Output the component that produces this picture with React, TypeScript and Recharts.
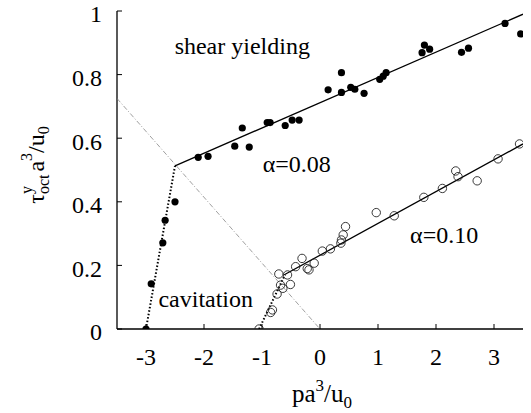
import React from "react";
import { ScatterChart, Scatter, XAxis, YAxis, ReferenceDot } from "recharts";

// tick values
const xTicks = [-3, -2, -1, 0, 1, 2, 3];
const yTicks = [0, 0.2, 0.4, 0.6, 0.8, 1];

// alpha = 0.08 (filled circles)
const filledPoints = [
  { x: -3.0, y: 0.0 }, { x: -2.91, y: 0.142 }, { x: -2.71, y: 0.271 }, { x: -2.67, y: 0.342 },
  { x: -2.5, y: 0.4 }, { x: -2.1, y: 0.54 }, { x: -1.93, y: 0.543 }, { x: -1.47, y: 0.575 },
  { x: -1.34, y: 0.632 }, { x: -1.22, y: 0.572 }, { x: -0.91, y: 0.649 }, { x: -0.86, y: 0.649 },
  { x: -0.6, y: 0.64 }, { x: -0.48, y: 0.657 }, { x: -0.36, y: 0.657 }, { x: 0.14, y: 0.752 },
  { x: 0.37, y: 0.806 }, { x: 0.37, y: 0.744 }, { x: 0.53, y: 0.76 }, { x: 0.6, y: 0.754 },
  { x: 0.76, y: 0.741 }, { x: 1.03, y: 0.785 }, { x: 1.09, y: 0.795 }, { x: 1.14, y: 0.806 },
  { x: 1.76, y: 0.869 }, { x: 1.8, y: 0.893 }, { x: 1.89, y: 0.88 }, { x: 2.44, y: 0.87 },
  { x: 2.56, y: 0.883 }, { x: 3.19, y: 0.961 }, { x: 3.46, y: 0.928 },
];

// alpha = 0.10 (open circles)
const openPoints = [
  { x: -1.05, y: 0 }, { x: -0.85, y: 0.052 }, { x: -0.82, y: 0.06 }, { x: -0.74, y: 0.11 },
  { x: -0.68, y: 0.138 }, { x: -0.71, y: 0.173 }, { x: -0.64, y: 0.128 }, { x: -0.56, y: 0.17 },
  { x: -0.51, y: 0.14 }, { x: -0.42, y: 0.196 }, { x: -0.31, y: 0.222 }, { x: -0.22, y: 0.19 },
  { x: -0.19, y: 0.186 }, { x: -0.1, y: 0.207 }, { x: 0.04, y: 0.245 }, { x: 0.18, y: 0.252 },
  { x: 0.36, y: 0.27 }, { x: 0.37, y: 0.28 }, { x: 0.4, y: 0.296 }, { x: 0.44, y: 0.322 },
  { x: 0.97, y: 0.366 }, { x: 1.28, y: 0.356 }, { x: 1.79, y: 0.414 }, { x: 2.11, y: 0.442 },
  { x: 2.34, y: 0.497 }, { x: 2.38, y: 0.479 }, { x: 2.71, y: 0.466 }, { x: 3.07, y: 0.535 },
  { x: 3.44, y: 0.582 },
];

// fitted lines
const upperShear = [{ x: -2.5, y: 0.513 }, { x: 3.5, y: 0.99 }];
const upperCavitation = [{ x: -3.0, y: 0.0 }, { x: -2.5, y: 0.513 }];
const lowerShear = [{ x: -0.6, y: 0.172 }, { x: 3.5, y: 0.582 }];
const lowerCavitation = [{ x: -1.05, y: 0.0 }, { x: -0.6, y: 0.172 }];
const boundary = [{ x: -3.5, y: 0.725 }, { x: 0, y: 0 }];

const FONT = "Liberation Serif";
const txt = { fontFamily: FONT };
const TICK = 5;

const BottomTick = (p: any) => (
  <g>
    <line x1={p.x} x2={p.x} y1={p.y} y2={p.y - TICK} stroke="#000" />
    <text x={p.x} y={p.y + 28} dy="0.35em" textAnchor="middle" fontSize={24} style={txt} fill="#000">
      {String(p.payload.value)}
    </text>
  </g>
);
const TopTick = (p: any) => <line x1={p.x} x2={p.x} y1={p.y} y2={p.y + TICK} stroke="#000" />;
const LeftTick = (p: any) => (
  <g>
    <line x1={p.x} x2={p.x + TICK} y1={p.y} y2={p.y} stroke="#000" />
    <text x={p.x - 15} y={p.y + 3} dy="0.35em" textAnchor="end" fontSize={24} style={txt} fill="#000">
      {String(p.payload.value)}
    </text>
  </g>
);
const RightTick = (p: any) => <line x1={p.x} x2={p.x - TICK} y1={p.y} y2={p.y} stroke="#000" />;

const noDot = () => <g />;
const filledDot = (p: any) => <circle cx={p.cx} cy={p.cy} r={3.6} fill="#000" />;
const openDot = (p: any) => <circle cx={p.cx} cy={p.cy} r={4.2} fill="none" stroke="#222" strokeWidth={0.9} />;

const note = (value: string) => ({
  value,
  position: "center" as const,
  fontSize: 24,
  style: txt,
  fill: "#000",
});

export default function App() {
  return (
    <div style={{ position: "absolute", left: 0, top: 0, width: 531, height: 413 }}>
      <ScatterChart width={531} height={413} margin={{ top: 11, right: 8, bottom: 0, left: 0 }}>
        <XAxis dataKey="x" type="number" domain={[-3.5, 3.5]} ticks={xTicks} interval={0} height={84}
          tickLine={false} tickSize={0} tickMargin={0} tick={<BottomTick />} axisLine={{ stroke: "#000", strokeWidth: 1.3 }} allowDataOverflow />
        <XAxis xAxisId="top" orientation="top" dataKey="x" type="number" domain={[-3.5, 3.5]} ticks={xTicks} interval={0} height={0}
          tickLine={false} tickSize={0} tickMargin={0} tick={<TopTick />} axisLine={{ stroke: "#000", strokeWidth: 1.3 }} allowDataOverflow />
        <YAxis dataKey="y" type="number" domain={[0, 1]} ticks={yTicks} interval={0} width={117}
          tickLine={false} tickSize={0} tickMargin={0} tick={<LeftTick />} axisLine={{ stroke: "#000", strokeWidth: 1.3 }} allowDataOverflow />
        <YAxis yAxisId="right" orientation="right" dataKey="y" type="number" domain={[0, 1]} ticks={yTicks} interval={0} width={0}
          tickLine={false} tickSize={0} tickMargin={0} tick={<RightTick />} axisLine={{ stroke: "#000", strokeWidth: 1.3 }} allowDataOverflow />

        <Scatter data={boundary} line={{ stroke: "#888", strokeWidth: 0.8, strokeDasharray: "5 2 1 2" }} shape={noDot} isAnimationActive={false} />
        <Scatter data={upperCavitation} line={{ stroke: "#000", strokeWidth: 2, strokeDasharray: "1.5 2" }} shape={noDot} isAnimationActive={false} />
        <Scatter data={lowerCavitation} line={{ stroke: "#000", strokeWidth: 2, strokeDasharray: "1.5 2" }} shape={noDot} isAnimationActive={false} />
        <Scatter data={upperShear} line={{ stroke: "#000", strokeWidth: 1.3 }} shape={noDot} isAnimationActive={false} />
        <Scatter data={lowerShear} line={{ stroke: "#000", strokeWidth: 1.3 }} shape={noDot} isAnimationActive={false} />
        <Scatter data={openPoints} shape={openDot} isAnimationActive={false} />
        <Scatter data={filledPoints} shape={filledDot} isAnimationActive={false} />

        <ReferenceDot x={-1.34} y={0.893} r={0} label={note("shear yielding")} />
        <ReferenceDot x={-0.4} y={0.522} r={0} label={note("α=0.08")} />
        <ReferenceDot x={2.14} y={0.296} r={0} label={note("α=0.10")} />
        <ReferenceDot x={-1.97} y={0.097} r={0} label={note("cavitation")} />
      </ScatterChart>
      <svg width={531} height={413} style={{ position: "absolute", left: 0, top: 0, pointerEvents: "none" }}>
        <text x={322} y={402} textAnchor="middle" fontSize={25} style={txt} fill="#000">
          pa<tspan fontSize={17} dy={-11}>3</tspan>
          <tspan dy={11}>/u</tspan>
          <tspan fontSize={17} dy={6}>0</tspan>
        </text>
        <text transform="translate(44,165) rotate(-90)" textAnchor="middle" fontSize={24} style={txt} fill="#000">
          τ<tspan fontSize={16} dy={-12}>y</tspan>
          <tspan fontSize={16} dx={-8} dy={17}>oct</tspan>
          <tspan dx={3} dy={-5}>a</tspan>
          <tspan fontSize={16} dy={-12}>3</tspan>
          <tspan dy={12}>/u</tspan>
          <tspan fontSize={16} dy={5}>0</tspan>
        </text>
      </svg>
    </div>
  );
}
